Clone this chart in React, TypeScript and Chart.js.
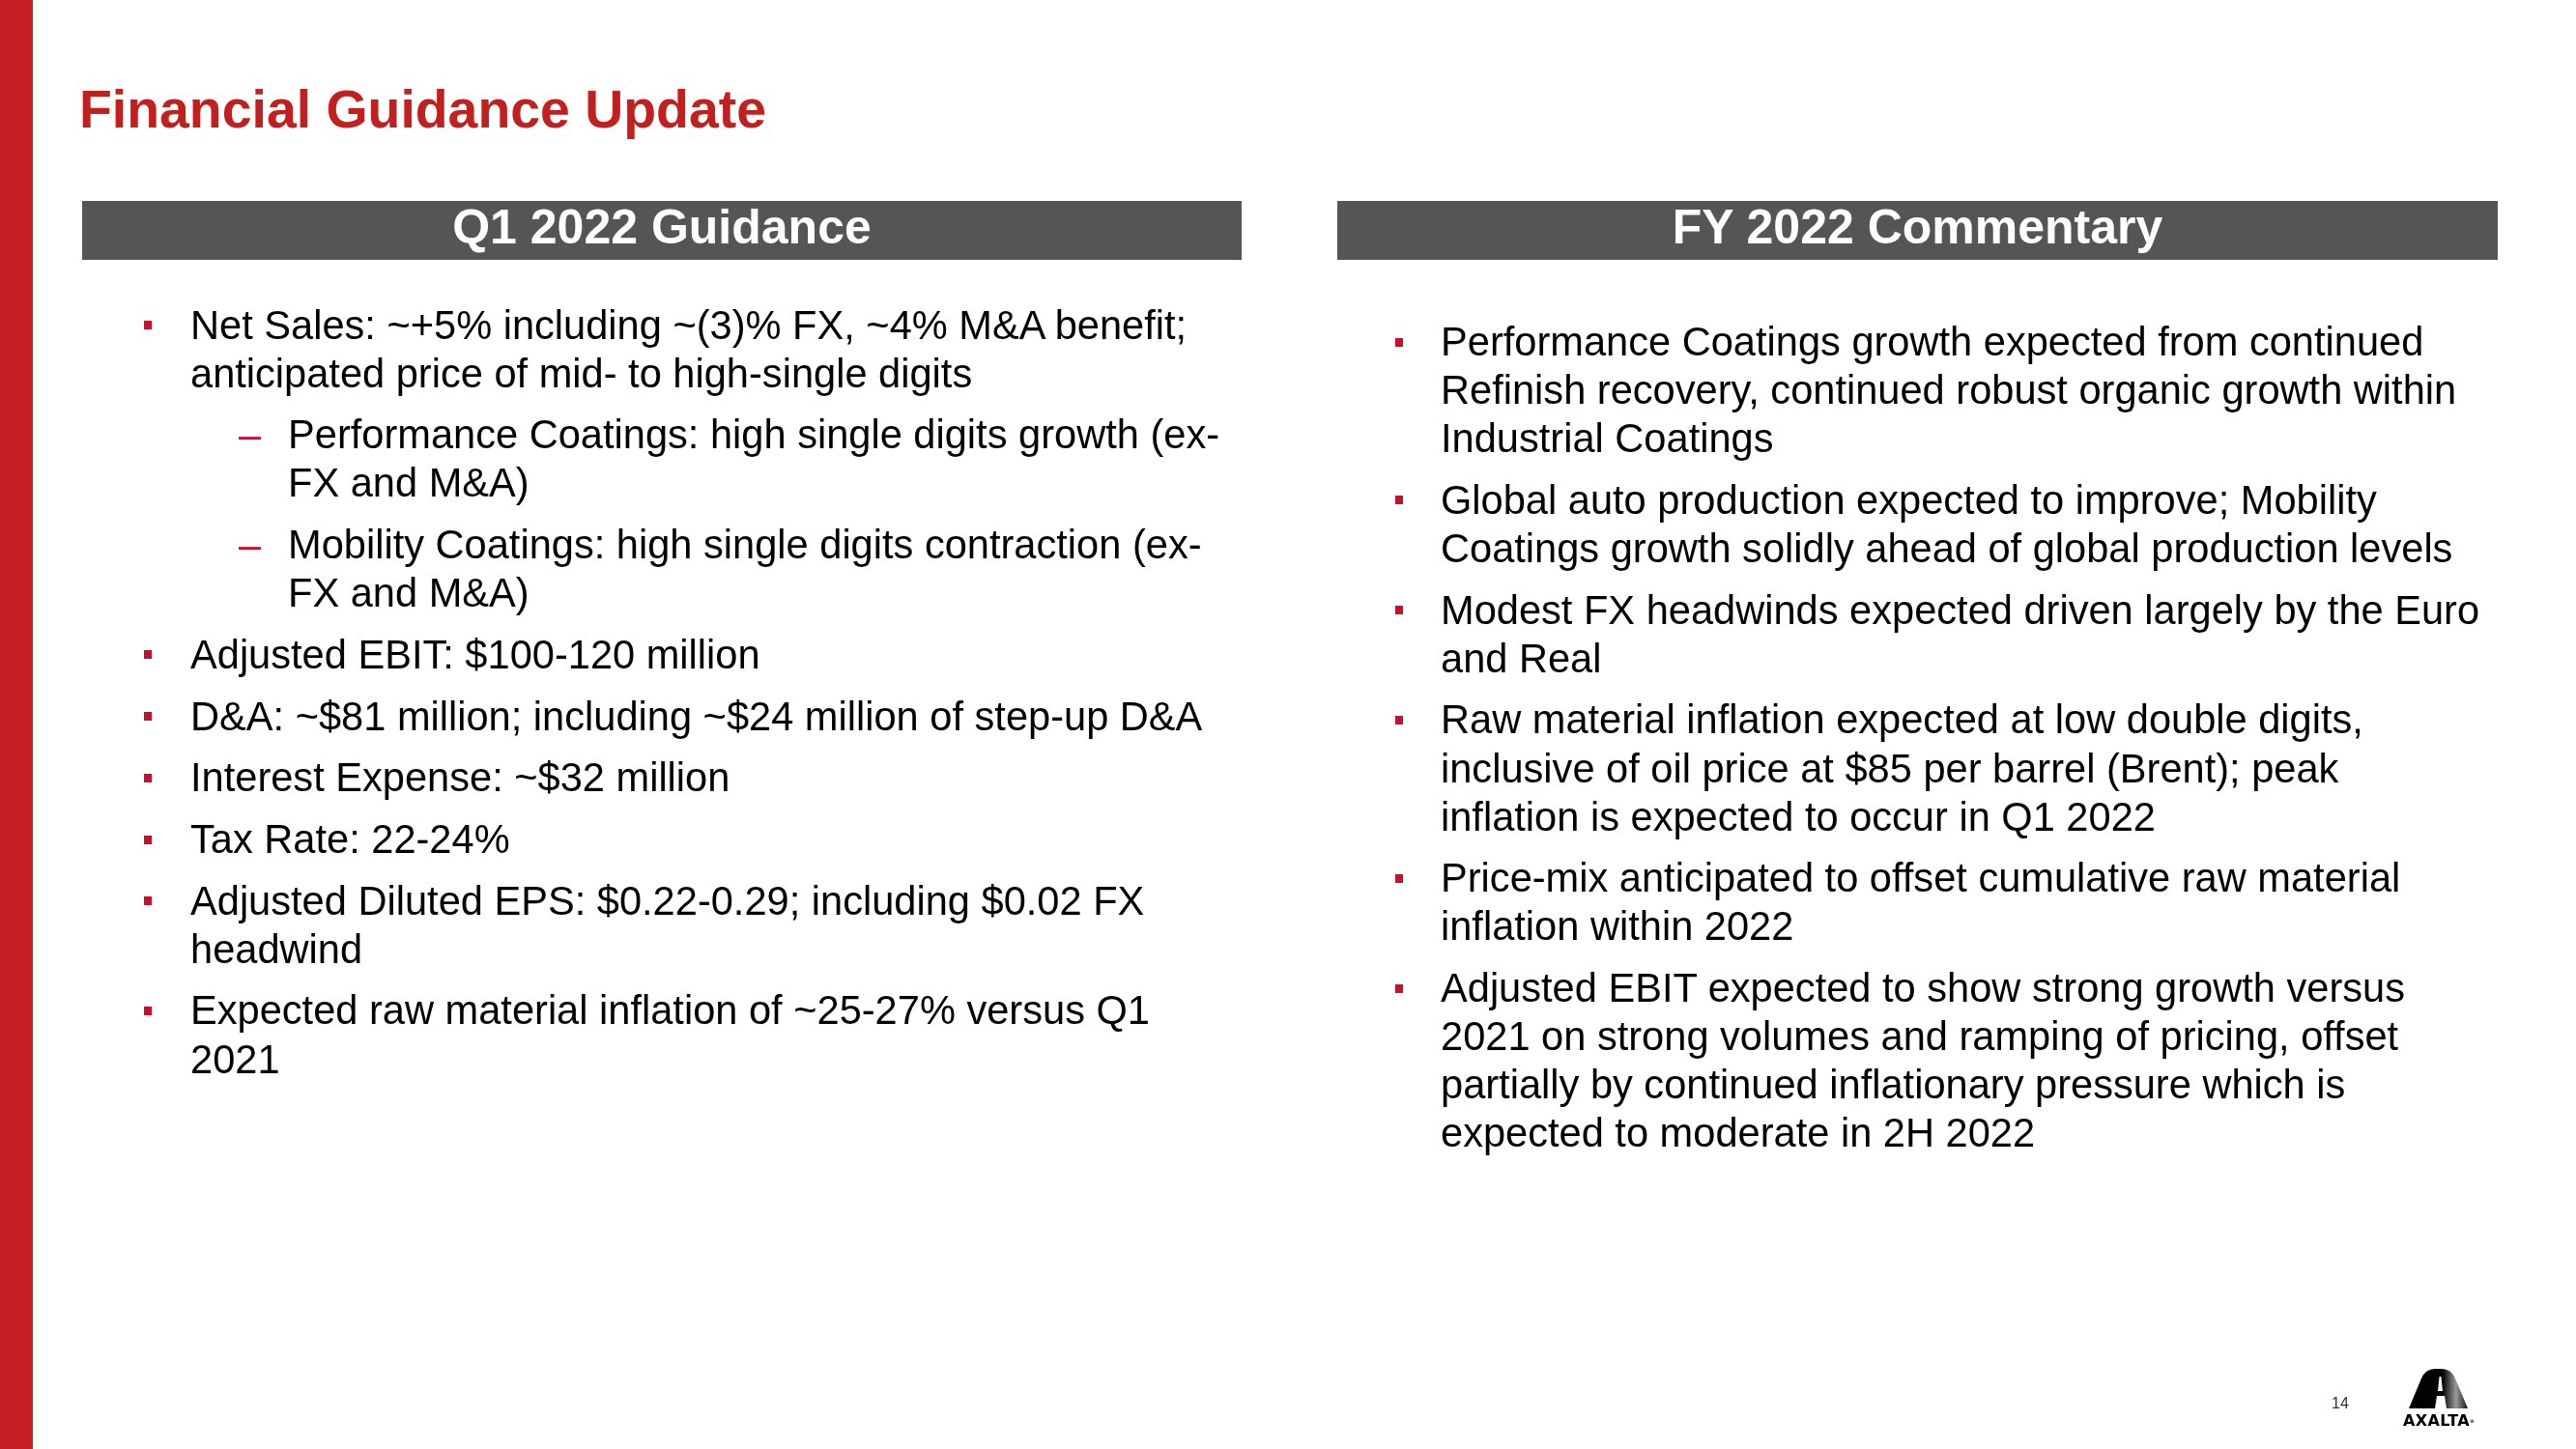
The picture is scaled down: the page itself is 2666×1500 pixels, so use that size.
import { useEffect, useRef } from "react";
import Chart from "chart.js/auto";

const TITLE = "Financial Guidance Update";
const LEFT_HEADER = "Q1 2022 Guidance";
const RIGHT_HEADER = "FY 2022 Commentary";
const PAGE_NUMBER = "14";
const LOGO_TEXT = "AXALTA";

const leftLevels = [0, 1, 1, 0, 0, 0, 0, 0, 0];
const leftLines = [
  ["Net Sales: ~+5% including ~(3)% FX, ~4% M&A benefit;", "anticipated price of mid- to high-single digits"],
  ["Performance Coatings: high single digits growth (ex-", "FX and M&A)"],
  ["Mobility Coatings: high single digits contraction (ex-", "FX and M&A)"],
  ["Adjusted EBIT: $100-120 million"],
  ["D&A: ~$81 million; including ~$24 million of step-up D&A"],
  ["Interest Expense: ~$32 million"],
  ["Tax Rate: 22-24%"],
  ["Adjusted Diluted EPS: $0.22-0.29; including $0.02 FX", "headwind"],
  ["Expected raw material inflation of ~25-27% versus Q1", "2021"],
];

const rightLevels = [0, 0, 0, 0, 0, 0];
const rightLines = [
  ["Performance Coatings growth expected from continued", "Refinish recovery, continued robust organic growth within", "Industrial Coatings"],
  ["Global auto production expected to improve; Mobility", "Coatings growth solidly ahead of global production levels"],
  ["Modest FX headwinds expected driven largely by the Euro", "and Real"],
  ["Raw material inflation expected at low double digits,", "inclusive of oil price at $85 per barrel (Brent); peak", "inflation is expected to occur in Q1 2022"],
  ["Price-mix anticipated to offset cumulative raw material", "inflation within 2022"],
  ["Adjusted EBIT expected to show strong growth versus", "2021 on strong volumes and ramping of pricing, offset", "partially by continued inflationary pressure which is", "expected to moderate in 2H 2022"],
];

const FONT = '"Liberation Sans", Arial, Helvetica, sans-serif';
const RED = "#C51F24";
const TITLE_RED = "#C1201F";
const BULLET_RED = "#C8102E";
const GREY = "#555555";
const LINE_H = 50.1;
const PARA_GAP = 13.6;
const BODY_SIZE = 41.6;

type ColProps = {
  lines: string[][];
  levels: number[];
  top: number;
  markerX: number;
  textX: number;
  dashX: number;
  subTextX: number;
};

function Column({ lines, levels, top, markerX, textX, dashX, subTextX }: ColProps) {
  return (
    <div style={{ position: "absolute", left: 0, top, width: 2666 }}>
      {lines.map((para, i) => {
        const lvl = levels[i];
        return (
          <div key={i} style={{ position: "relative", marginTop: i ? PARA_GAP : 0 }}>
            {lvl === 0 ? (
              <span
                style={{
                  position: "absolute",
                  left: markerX,
                  top: LINE_H / 2 - 4.5,
                  width: 8,
                  height: 9,
                  background: BULLET_RED,
                }}
              />
            ) : (
              <span
                style={{
                  position: "absolute",
                  left: dashX,
                  top: 0,
                  color: BULLET_RED,
                  fontSize: BODY_SIZE,
                  lineHeight: LINE_H + "px",
                }}
              >
                –
              </span>
            )}
            <div style={{ marginLeft: lvl === 0 ? textX : subTextX, whiteSpace: "nowrap" }}>
              {para.map((l, j) => (
                <div key={j}>{l}</div>
              ))}
            </div>
          </div>
        );
      })}
    </div>
  );
}

export default function App() {
  const ref = useRef<HTMLCanvasElement>(null);
  useEffect(() => {
    const chart = new Chart(ref.current!, {
      type: "bar",
      data: { labels: [], datasets: [] },
      options: {
        animation: false,
        responsive: false,
        plugins: { legend: { display: false }, tooltip: { enabled: false } },
        scales: { x: { display: false }, y: { display: false } },
      },
    });
    return () => chart.destroy();
  }, []);

  const headerStyle = {
    position: "absolute" as const,
    top: 208,
    height: 61,
    background: GREY,
    color: "#ffffff",
    fontSize: 50,
    fontWeight: 700,
    lineHeight: "55px",
    textAlign: "center" as const,
    whiteSpace: "nowrap" as const,
  };

  return (
    <div
      style={{
        position: "fixed",
        left: 0,
        top: 0,
        width: 2666,
        height: 1500,
        background: "#ffffff",
        overflow: "hidden",
        fontFamily: FONT,
        color: "#000000",
        fontSize: BODY_SIZE,
        lineHeight: LINE_H + "px",
      }}
    >
      <canvas
        ref={ref}
        width={2666}
        height={1500}
        style={{ position: "absolute", left: 0, top: 0, width: 2666, height: 1500, pointerEvents: "none" }}
      />
      <div style={{ position: "absolute", left: 0, top: 0, width: 34, height: 1500, background: RED }} />
      <div
        style={{
          position: "absolute",
          left: 82,
          top: 86.4,
          fontSize: 55.4,
          lineHeight: "55px",
          fontWeight: 700,
          color: TITLE_RED,
          whiteSpace: "nowrap",
        }}
      >
        {TITLE}
      </div>
      <div style={{ ...headerStyle, left: 85, width: 1200 }}>{LEFT_HEADER}</div>
      <div style={{ ...headerStyle, left: 1384, width: 1201 }}>{RIGHT_HEADER}</div>
      <Column lines={leftLines} levels={leftLevels} top={311.6} markerX={149} textX={197} dashX={247} subTextX={298} />
      <Column lines={rightLines} levels={rightLevels} top={329} markerX={1444} textX={1491} dashX={1444} subTextX={1491} />
      <div
        style={{
          position: "absolute",
          left: 2413,
          top: 1444.5,
          fontSize: 16,
          lineHeight: "16px",
          color: "#333333",
        }}
      >
        {PAGE_NUMBER}
      </div>
      <svg
        width={85}
        height={52}
        viewBox="0 0 85 52"
        style={{ position: "absolute", left: 2485, top: 1412 }}
      >
        <defs>
          <linearGradient id="axg" x1="0" y1="0" x2="1" y2="0">
            <stop offset="0" stopColor="#000" />
            <stop offset="0.58" stopColor="#050505" />
            <stop offset="0.8" stopColor="#9a9a9a" />
            <stop offset="1" stopColor="#111" />
          </linearGradient>
        </defs>
        <path
          d="M8 46 L21 15 Q25 5 35 5 L42 5 Q52 5 56 15 L69 46 L47 46 L45 33 L37 33 L35 46 Z"
          fill="url(#axg)"
        />
        <path d="M39.6 13 L41.4 13 L43 28 L38 28 Z" fill="#fff" />
      </svg>
      <div
        style={{
          position: "absolute",
          left: 2487,
          top: 1462.5,
          fontFamily: '"DejaVu Sans", sans-serif',
          fontSize: 16,
          lineHeight: "16px",
          fontWeight: 700,
          letterSpacing: 0.4,
          color: "#000",
          whiteSpace: "nowrap",
        }}
      >
        {LOGO_TEXT}
        <span style={{ fontSize: 5, verticalAlign: "top", letterSpacing: 0 }}>®</span>
      </div>
    </div>
  );
}
